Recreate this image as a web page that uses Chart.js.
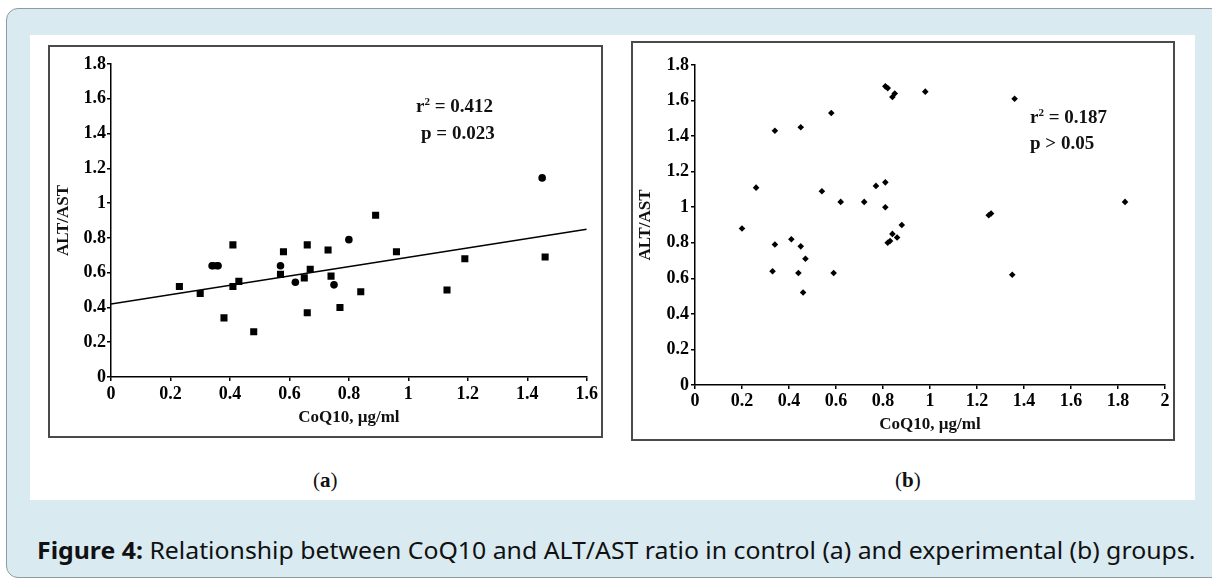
<!DOCTYPE html>
<html>
<head>
<meta charset="utf-8">
<script src="https://cdn.jsdelivr.net/npm/chart.js@4.4.1/dist/chart.umd.min.js"></script>
<style>
  body { margin: 0; width: 1212px; height: 581px; overflow: hidden; position: relative; background: #fff; }
  #frame { position: absolute; left: 6px; top: 8px; width: 1230px; height: 568px; background: #d9ebf1; border: 1px solid #8e9ca2; border-radius: 12px; }
  #panel { position: absolute; left: 30px; top: 35px; width: 1165px; height: 465px; background: #fff; }
  .box { position: absolute; border: 2px solid #4a4a4a; background: #fff; }
  .box canvas { position: absolute; left: 0; top: 0; }
  .stat { position: absolute; font-family: 'Liberation Serif', serif; font-weight: bold; font-size: 19px; line-height: 19px; color: #111; white-space: nowrap; }
  .stat sup { font-size: 11px; vertical-align: 7px; line-height: 0; }
  .sub { position: absolute; font-family: 'Liberation Serif', serif; font-size: 21px; color: #111; }
  #caption { position: absolute; left: 37px; top: 536px; font-family: 'Noto Sans', sans-serif; font-size: 23px; line-height: 28px; color: #111; white-space: nowrap; transform-origin: left center; }
</style>
</head>
<body>
<div id="frame"></div>
<div id="panel"></div>

<div class="box" style="left:48px; top:45px; width:551px; height:389px;">
  <canvas id="chartA" width="551" height="389"></canvas>
</div>
<div class="box" style="left:631px; top:41px; width:540px; height:396px;">
  <canvas id="chartB" width="540" height="396"></canvas>
</div>

<div class="stat" style="left:416px; top:96px;">r<sup>2</sup> = 0.412</div>
<div class="stat" style="left:421px; top:123px;">p = 0.023</div>
<div class="stat" style="left:1030px; top:107px;">r<sup>2</sup> = 0.187</div>
<div class="stat" style="left:1030px; top:133px;">p &gt; 0.05</div>

<div class="sub" style="left:313px; top:468px;">(<b>a</b>)</div>
<div class="sub" style="left:895px; top:468px;">(<b>b</b>)</div>

<div id="caption"><b>Figure 4:</b> Relationship between CoQ10 and ALT/AST ratio in control (a) and experimental (b) groups.</div>

<script>
// --- dane: grupa kontrolna (a) ---
const ctrlCoq   = [0.23, 0.30, 0.35, 0.38, 0.41, 0.41, 0.43, 0.48, 0.57, 0.58, 0.65, 0.66, 0.66, 0.67, 0.73, 0.74, 0.77, 0.84, 0.89, 0.96, 1.13, 1.19, 1.46];
const ctrlRatio = [0.52, 0.48, 0.64, 0.34, 0.76, 0.52, 0.55, 0.26, 0.59, 0.72, 0.57, 0.76, 0.37, 0.62, 0.73, 0.58, 0.40, 0.49, 0.93, 0.72, 0.50, 0.68, 0.69];
// punkty nakładające się (rysowane jako kółka)
const ctrlCoqRound   = [0.34, 0.36, 0.57, 0.62, 0.75, 0.80, 1.45];
const ctrlRatioRound = [0.64, 0.64, 0.64, 0.545, 0.53, 0.79, 1.145];
// linia regresji (końce)
const fitCoq   = [0, 1.6];
const fitRatio = [0.42, 0.85];

// --- dane: grupa eksperymentalna (b) ---
const expCoq   = [0.20, 0.26, 0.33, 0.34, 0.34, 0.41, 0.44, 0.45, 0.45, 0.46, 0.47, 0.54, 0.58, 0.59, 0.62, 0.72, 0.77, 0.81, 0.81, 0.81, 0.82, 0.82, 0.83, 0.84, 0.84, 0.85, 0.86, 0.88, 0.98, 1.25, 1.26, 1.35, 1.36, 1.83];
const expRatio = [0.88, 1.11, 0.64, 0.79, 1.43, 0.82, 0.63, 0.78, 1.45, 0.52, 0.71, 1.09, 1.53, 0.63, 1.03, 1.03, 1.12, 1.14, 1.00, 1.68, 1.67, 0.80, 0.81, 0.85, 1.62, 1.64, 0.83, 0.90, 1.65, 0.955, 0.965, 0.62, 1.61, 1.03];

// --- etykiety osi ---
const xTicksA = [0, 0.2, 0.4, 0.6, 0.8, 1, 1.2, 1.4, 1.6];
const xTicksB = [0, 0.2, 0.4, 0.6, 0.8, 1, 1.2, 1.4, 1.6, 1.8, 2];
const yTicks  = [0, 0.2, 0.4, 0.6, 0.8, 1, 1.2, 1.4, 1.6, 1.8];
const xTitle = 'CoQ10, µg/ml';
const yTitle = 'ALT/AST';

const FONT = "'Liberation Serif', serif";

function toPoints(xs, ys) {
  return xs.map((x, i) => ({ x: x, y: ys[i] }));
}

function makeAxis(ticks, max, title, opts) {
  return {
    type: 'linear',
    min: 0,
    max: max,
    afterBuildTicks: s => { s.ticks = ticks.map(v => ({ value: v })); },
    afterFit: s => {
      if (opts.width) s.width = opts.width;
      if (opts.height) s.height = opts.height;
    },
    ticks: {
      color: '#000',
      padding: opts.pad,
      autoSkip: false,
      maxRotation: 0,
      font: { family: FONT, size: 18, weight: 'bold' },
      callback: v => String(v)
    },
    grid: { drawOnChartArea: false, drawTicks: true, tickLength: 4, color: '#000', lineWidth: 1.5 },
    border: { color: '#000', width: 1.5 },
    title: {
      display: true,
      text: title,
      color: '#111',
      padding: 0,
      font: { family: FONT, size: 17, weight: 'bold' }
    }
  };
}

const common = {
  responsive: false,
  animation: false,
  plugins: { legend: { display: false }, tooltip: { enabled: false } }
};

// Wykres (a)
new Chart(document.getElementById('chartA'), {
  type: 'scatter',
  data: {
    datasets: [
      {
        data: toPoints(fitCoq, fitRatio),
        showLine: true,
        borderColor: '#000',
        borderWidth: 1.5,
        pointRadius: 0
      },
      {
        data: toPoints(ctrlCoq, ctrlRatio),
        pointStyle: 'rect',
        pointRadius: 5,
        backgroundColor: '#000',
        borderColor: '#000',
        borderWidth: 0
      },
      {
        data: toPoints(ctrlCoqRound, ctrlRatioRound),
        pointStyle: 'circle',
        pointRadius: 3.8,
        backgroundColor: '#000',
        borderColor: '#000',
        borderWidth: 0
      }
    ]
  },
  options: Object.assign({}, common, {
    layout: { padding: { left: 3, top: 17, right: 14, bottom: 8 } },
    scales: {
      x: makeAxis(xTicksA, 1.6, xTitle, { height: 51, pad: 3 }),
      y: makeAxis(yTicks, 1.8, yTitle, { width: 58, pad: 1 })
    }
  })
});

// Wykres (b)
new Chart(document.getElementById('chartB'), {
  type: 'scatter',
  data: {
    datasets: [
      {
        data: toPoints(expCoq, expRatio),
        pointStyle: 'rectRot',
        pointRadius: 3.3,
        backgroundColor: '#000',
        borderColor: '#000',
        borderWidth: 0
      }
    ]
  },
  options: Object.assign({}, common, {
    layout: { padding: { left: 2, top: 22, right: 8, bottom: 4 } },
    scales: {
      x: makeAxis(xTicksB, 2, xTitle, { height: 50, pad: 2 }),
      y: makeAxis(yTicks, 1.8, yTitle, { width: 60, pad: 2 })
    }
  })
});

// dopasowanie szerokości podpisu
const cap = document.getElementById('caption');
cap.style.transform = 'scaleX(' + (1158 / cap.offsetWidth) + ')';
</script>
</body>
</html>
